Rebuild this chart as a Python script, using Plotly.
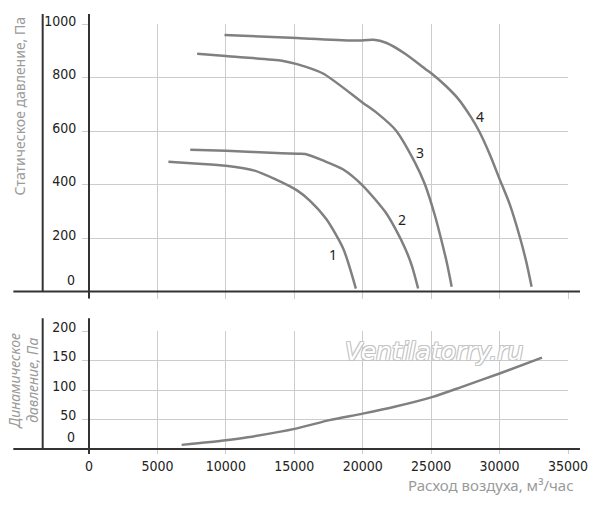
import plotly.graph_objects as go

# расход воздуха (м3/час) и статическое давление (Па) для кривых 1-4
flow_1 = [5800, 8000, 10000, 12100, 13600, 15200, 16130, 17350, 18580, 19500]
static_1 = [485, 478, 470, 452, 420, 378, 340, 270, 160, 11]

flow_2 = [7400, 10000, 14100, 15300, 15800, 17140, 18580, 20000, 21670, 22400, 23110, 23600, 24050]
static_2 = [530, 526, 517, 515, 514, 489, 456, 396, 296, 233, 160, 95, 11]

flow_3 = [7900, 10000, 14100, 15200, 17100, 20000, 21100, 22400, 23830, 24550, 25270, 25630, 26140, 26500]
static_3 = [889, 880, 863, 850, 815, 706, 665, 604, 481, 400, 285, 216, 109, 18]

flow_4 = [9900, 15200, 19500, 20800, 21700, 23100, 24550, 25030, 26000, 26950, 27910, 28500, 29340,
          30010, 30750, 31500, 31950, 32340]
static_4 = [959, 948, 938, 941, 930, 889, 833, 815, 772, 722, 652, 600, 506,
            419, 325, 200, 111, 18]

# динамическое давление
flow_dyn = [6770, 10000, 11600, 15200, 17570, 20000, 22400, 25060, 27200, 30100, 33100]
dyn = [7, 15, 20, 35, 49, 60, 72, 88, 105, 129, 155]

curve_names = ["1", "2", "3", "4"]
label_x = [17800, 22900, 24200, 28600]
label_y = [137, 270, 518, 656]

x_ticks = [0, 5000, 10000, 15000, 20000, 25000, 30000, 35000]
static_ticks = [0, 200, 400, 600, 800, 1000]
dyn_ticks = [0, 50, 100, 150, 200]

CURVE = "#808080"
GRID = "#cccccc"
AXIS = "#333333"
TITLE = "#9a9a9a"
NUM_FONT = "Liberation Sans Narrow, Noto Sans Condensed, DejaVu Sans Condensed, Roboto, sans-serif"
TXT_FONT = "Noto Sans, Open Sans, sans-serif"

fig = go.Figure()

for fx, sy in [(flow_1, static_1), (flow_2, static_2), (flow_3, static_3), (flow_4, static_4)]:
    fig.add_scatter(x=fx, y=sy, mode="lines", xaxis="x", yaxis="y",
                    line=dict(color=CURVE, width=2.5, shape="spline", smoothing=0.7),
                    hoverinfo="skip")

fig.add_scatter(x=flow_dyn, y=dyn, mode="lines", xaxis="x2", yaxis="y2",
                line=dict(color=CURVE, width=2.5, shape="spline", smoothing=0.7),
                hoverinfo="skip")

for name, lx, ly in zip(curve_names, label_x, label_y):
    fig.add_annotation(x=lx, y=ly, xref="x", yref="y", text=name, showarrow=False,
                       font=dict(family=TXT_FONT, size=14, color="#222222"))

# подписи нуля по оси Y приподняты над осью
for xa, ya in [("x", "y"), ("x2", "y2")]:
    fig.add_annotation(x=0, y=0, xref=xa, yref=ya, text="0", showarrow=False,
                       xanchor="right", yanchor="middle", xshift=-12, yshift=12,
                       font=dict(family=NUM_FONT, size=14, color="#222222"))

fig.add_annotation(x=25200, y=166, xref="x2", yref="y2", text="Ventilatorry.ru",
                   showarrow=False,
                   font=dict(family="DejaVu Sans, sans-serif", size=25, color="white",
                             style="italic",
                             shadow="-1px -1px 0 #c4c4c4, 1px -1px 0 #c4c4c4, "
                                    "-1px 1px 0 #c4c4c4, 1px 1px 0 #c4c4c4"))

fig.add_annotation(x=-0.146, y=0.806, xref="paper", yref="paper",
                   xanchor="center", yanchor="middle",
                   text="Статическое давление, Па", showarrow=False, textangle=-90,
                   font=dict(family=TXT_FONT, size=14, color=TITLE))
fig.add_annotation(x=-0.136, y=0.161, xref="paper", yref="paper",
                   xanchor="center", yanchor="middle",
                   text="Динамическое<br>давление, Па", showarrow=False, textangle=-90,
                   font=dict(family=TXT_FONT, size=14, color=TITLE, style="italic"))
fig.add_annotation(x=1.016, y=-0.084, xref="paper", yref="paper",
                   xanchor="right", yanchor="middle",
                   text="Расход воздуха, м³/час", showarrow=False,
                   font=dict(family=TXT_FONT, size=15, color=TITLE))

# оси графиков
for xa, ya, top, bottom in [("x", "y", 1.037, -0.026), ("x2", "y2", 1.109, -0.042)]:
    line = dict(color=AXIS, width=2)
    fig.add_shape(type="line", xref=xa + " domain", yref=ya + " domain",
                  x0=-0.158, x1=1.025, y0=0, y1=0, line=line)
    fig.add_shape(type="line", xref=xa + " domain", yref=ya + " domain",
                  x0=-0.0967, x1=-0.0967, y0=0, y1=top, line=line)
    fig.add_shape(type="line", xref=xa + " domain", yref=ya + " domain",
                  x0=0, x1=0, y0=bottom, y1=top, line=line)

axis_common = dict(showgrid=True, gridcolor=GRID, gridwidth=1, zeroline=False,
                   showline=False, ticks="outside", tickcolor=GRID, tickwidth=1,
                   tickfont=dict(family=NUM_FONT, size=14, color="#222222"))

fig.update_layout(
    width=600, height=505,
    margin=dict(l=89, r=25, t=20, b=56),
    paper_bgcolor="white", plot_bgcolor="white",
    showlegend=False,
    xaxis=dict(domain=[0, 1], anchor="y", range=[0, 35000], tickvals=x_ticks,
               showticklabels=False, ticklen=7, **axis_common),
    yaxis=dict(domain=[0.3706, 1], anchor="x", range=[0, 1000], tickvals=static_ticks,
               ticktext=[""] + [str(v) for v in static_ticks[1:]],
               ticklen=6, ticklabelstandoff=3, ticklabelshift=-3, **axis_common),
    xaxis2=dict(domain=[0, 1], anchor="y2", range=[0, 35000], tickvals=x_ticks,
                ticktext=[str(v) for v in x_ticks], ticklen=4, **axis_common),
    yaxis2=dict(domain=[0, 0.2774], anchor="x2", range=[0, 200], tickvals=dyn_ticks,
                ticktext=[""] + [str(v) for v in dyn_ticks[1:]],
                ticklen=6, ticklabelstandoff=3, ticklabelshift=-4, **axis_common),
)

fig.write_html("out.html", config={"displayModeBar": False},
               post_script="document.body.style.margin = '0';")
